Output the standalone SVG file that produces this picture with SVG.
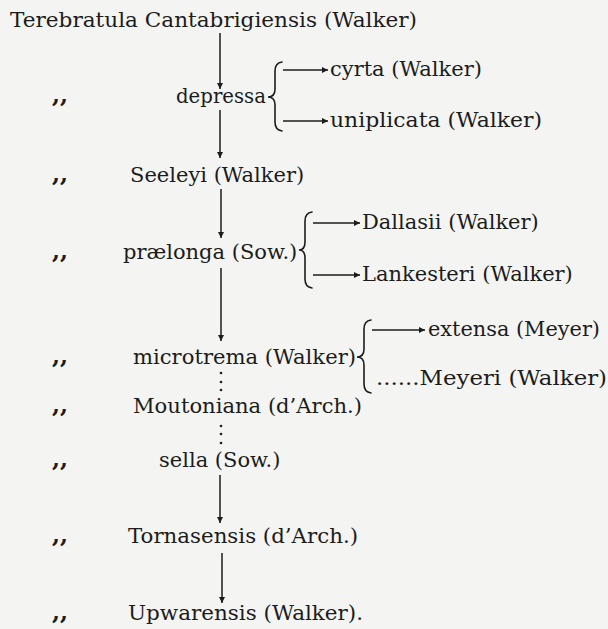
<svg xmlns="http://www.w3.org/2000/svg" width="608" height="629" viewBox="0 0 608 629">
<defs>
<style>
text{font-family:"DejaVu Serif","Liberation Serif",serif;font-size:21px;fill:#1c1c1c}
.dt{font-size:23px;font-weight:bold}
.ln{stroke:#1c1c1c;stroke-width:1.5;fill:none}
.br{stroke:#1c1c1c;stroke-width:1.6;fill:none;stroke-linecap:round}
.dot{fill:#1c1c1c}
</style>
<marker id="ah" viewBox="0 0 10 10" refX="10" refY="5" markerWidth="8" markerHeight="6" markerUnits="userSpaceOnUse" orient="auto">
<path d="M0,0 L10,5 L0,10 z" fill="#1c1c1c"/>
</marker>
</defs>
<rect width="608" height="629" fill="#f4f4f2"/>
<g id="connectors">
<line class="ln" x1="220" y1="33" x2="220" y2="89" marker-end="url(#ah)"/>
<line class="ln" x1="220" y1="110" x2="220" y2="158" marker-end="url(#ah)"/>
<line class="ln" x1="221" y1="189" x2="221" y2="238" marker-end="url(#ah)"/>
<line class="ln" x1="221" y1="268" x2="221" y2="341" marker-end="url(#ah)"/>
<line class="ln" x1="220" y1="475" x2="220" y2="523" marker-end="url(#ah)"/>
<line class="ln" x1="222" y1="553" x2="222" y2="603" marker-end="url(#ah)"/>
<line class="ln" x1="283" y1="70" x2="328" y2="70" marker-end="url(#ah)"/>
<line class="ln" x1="283" y1="121" x2="328" y2="121" marker-end="url(#ah)"/>
<line class="ln" x1="313" y1="223" x2="360" y2="223" marker-end="url(#ah)"/>
<line class="ln" x1="313" y1="275" x2="360" y2="275" marker-end="url(#ah)"/>
<line class="ln" x1="372" y1="330" x2="425" y2="330" marker-end="url(#ah)"/>
<circle class="dot" cx="221" cy="373" r="1.3"/>
<circle class="dot" cx="221" cy="382" r="1.3"/>
<circle class="dot" cx="221" cy="390" r="1.3"/>
<circle class="dot" cx="221" cy="426" r="1.3"/>
<circle class="dot" cx="221" cy="434" r="1.3"/>
<circle class="dot" cx="221" cy="443" r="1.3"/>
<path class="br" d="M282,62 Q275,63 275,71 L275,89 Q275,97 268,97 Q275,97 275,105 L275,122 Q275,130 282,131"/>
<path class="br" d="M312,212 Q305,213 305,221 L305,242 Q305,250 299,250 Q305,250 305,258 L305,279 Q305,287 312,288"/>
<path class="br" d="M371,320 Q364,321 364,329 L364,349 Q364,357 357,357 Q364,357 364,365 L364,384 Q364,392 371,393"/>
</g>
<g id="n-title"><text x="10" y="27" textLength="407" lengthAdjust="spacingAndGlyphs">Terebratula Cantabrigiensis (Walker)</text></g>
<g id="n-depressa"><text class="dt" x="52" y="103">,,</text><text x="176" y="103" textLength="90" lengthAdjust="spacingAndGlyphs">depressa</text></g>
<g id="n-cyrta"><text x="330" y="76">cyrta (Walker)</text></g>
<g id="n-uniplicata"><text x="330" y="127" textLength="212" lengthAdjust="spacingAndGlyphs">uniplicata (Walker)</text></g>
<g id="n-seeleyi"><text class="dt" x="52" y="182">,,</text><text x="130" y="182">Seeleyi (Walker)</text></g>
<g id="n-praelonga"><text class="dt" x="52" y="259">,,</text><text x="123" y="259">prælonga (Sow.)</text></g>
<g id="n-dallasii"><text x="362" y="229">Dallasii (Walker)</text></g>
<g id="n-lankesteri"><text x="362" y="281">Lankesteri (Walker)</text></g>
<g id="n-extensa"><text x="428" y="336" textLength="172" lengthAdjust="spacingAndGlyphs">extensa (Meyer)</text></g>
<g id="n-microtrema"><text class="dt" x="52" y="364">,,</text><text x="133" y="364" textLength="223" lengthAdjust="spacingAndGlyphs">microtrema (Walker)</text></g>
<g id="n-meyeri"><text x="376" y="385" textLength="231" lengthAdjust="spacingAndGlyphs">......Meyeri (Walker)</text></g>
<g id="n-moutoniana"><text class="dt" x="52" y="413">,,</text><text x="133" y="413" textLength="229" lengthAdjust="spacingAndGlyphs">Moutoniana (d’Arch.)</text></g>
<g id="n-sella"><text class="dt" x="52" y="467">,,</text><text x="159" y="467">sella (Sow.)</text></g>
<g id="n-tornasensis"><text class="dt" x="52" y="543">,,</text><text x="128" y="543" textLength="230" lengthAdjust="spacingAndGlyphs">Tornasensis (d’Arch.)</text></g>
<g id="n-upwarensis"><text class="dt" x="52" y="620">,,</text><text x="128" y="620" textLength="235" lengthAdjust="spacingAndGlyphs">Upwarensis (Walker).</text></g>
</svg>
